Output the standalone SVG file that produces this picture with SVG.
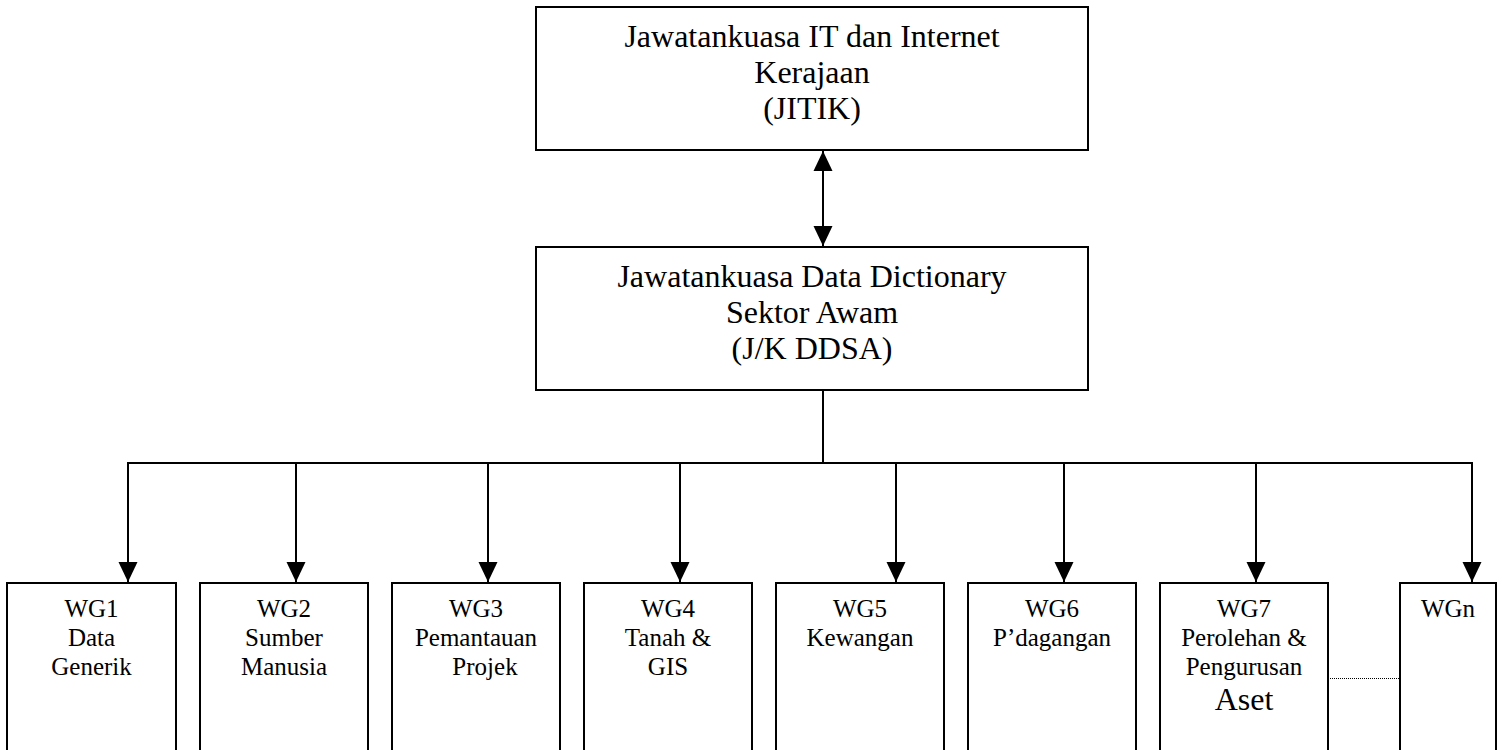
<svg xmlns="http://www.w3.org/2000/svg" width="1502" height="750" viewBox="0 0 1502 750">
<style>
.box{fill:#fff;stroke:#000;stroke-width:2}
.t{font-family:"Liberation Serif","Times New Roman",serif;fill:#000;text-anchor:middle}
.big{font-size:32px}
.sm{font-size:25px}
.ln{fill:none;stroke:#000;stroke-width:2}
.dot{fill:none;stroke:#000;stroke-width:1;stroke-dasharray:1 1}
</style>
<defs>
<marker id="ah" markerUnits="userSpaceOnUse" markerWidth="20" markerHeight="20" viewBox="0 0 20 20" refX="20" refY="10" orient="auto-start-reverse">
<path d="M0,0.5 L20,10 L0,19.5 Z" fill="#000"/>
</marker>
</defs>
<rect width="1502" height="750" fill="#fff"/>
<g id="connectors">
<line class="ln" x1="823" y1="151" x2="823" y2="246" marker-start="url(#ah)" marker-end="url(#ah)"/>
<line class="ln" x1="823" y1="390" x2="823" y2="463"/>
<line class="ln" x1="127" y1="463" x2="1473" y2="463"/>
<line class="ln" x1="128" y1="463" x2="128" y2="582" marker-end="url(#ah)"/>
<line class="ln" x1="296" y1="463" x2="296" y2="582" marker-end="url(#ah)"/>
<line class="ln" x1="488" y1="463" x2="488" y2="582" marker-end="url(#ah)"/>
<line class="ln" x1="680" y1="463" x2="680" y2="582" marker-end="url(#ah)"/>
<line class="ln" x1="896" y1="463" x2="896" y2="582" marker-end="url(#ah)"/>
<line class="ln" x1="1064" y1="463" x2="1064" y2="582" marker-end="url(#ah)"/>
<line class="ln" x1="1256" y1="463" x2="1256" y2="582" marker-end="url(#ah)"/>
<line class="ln" x1="1472" y1="463" x2="1472" y2="582" marker-end="url(#ah)"/>
<line class="dot" x1="1330" y1="678.5" x2="1399" y2="678.5"/>
</g>
<g id="jitik">
<rect class="box" x="536" y="7" width="552" height="143"/>
<text class="t big" x="812" y="47">Jawatankuasa IT dan Internet</text>
<text class="t big" x="812" y="83">Kerajaan</text>
<text class="t big" x="812" y="119">(JITIK)</text>
</g>
<g id="ddsa">
<rect class="box" x="536" y="247" width="552" height="143"/>
<text class="t big" x="812" y="287">Jawatankuasa Data Dictionary</text>
<text class="t big" x="812" y="323">Sektor Awam</text>
<text class="t big" x="812" y="359">(J/K DDSA)</text>
</g>
<g id="wg1">
<rect class="box" x="7" y="583" width="169" height="200"/>
<text class="t sm" x="91.5" y="617">WG1</text>
<text class="t sm" x="91.5" y="646">Data</text>
<text class="t sm" x="91.5" y="675">Generik</text>
</g>
<g id="wg2">
<rect class="box" x="200" y="583" width="168" height="200"/>
<text class="t sm" x="284" y="617">WG2</text>
<text class="t sm" x="284" y="646">Sumber</text>
<text class="t sm" x="284" y="675">Manusia</text>
</g>
<g id="wg3">
<rect class="box" x="392" y="583" width="168" height="200"/>
<text class="t sm" x="476" y="617">WG3</text>
<text class="t sm" x="476" y="646">Pemantauan</text>
<text class="t sm" x="485" y="675">Projek</text>
</g>
<g id="wg4">
<rect class="box" x="584" y="583" width="168" height="200"/>
<text class="t sm" x="668" y="617">WG4</text>
<text class="t sm" x="668" y="646">Tanah &amp;</text>
<text class="t sm" x="668" y="675">GIS</text>
</g>
<g id="wg5">
<rect class="box" x="776" y="583" width="168" height="200"/>
<text class="t sm" x="860" y="617">WG5</text>
<text class="t sm" x="860" y="646">Kewangan</text>
</g>
<g id="wg6">
<rect class="box" x="968" y="583" width="168" height="200"/>
<text class="t sm" x="1052" y="617">WG6</text>
<text class="t sm" x="1052" y="646">P’dagangan</text>
</g>
<g id="wg7">
<rect class="box" x="1160" y="583" width="168" height="200"/>
<text class="t sm" x="1244" y="617">WG7</text>
<text class="t sm" x="1244" y="646">Perolehan &amp;</text>
<text class="t sm" x="1244" y="675">Pengurusan</text>
<text class="t big" x="1244" y="710">Aset</text>
</g>
<g id="wgn">
<rect class="box" x="1400" y="583" width="96" height="200"/>
<text class="t sm" x="1448" y="617">WGn</text>
</g>
</svg>
